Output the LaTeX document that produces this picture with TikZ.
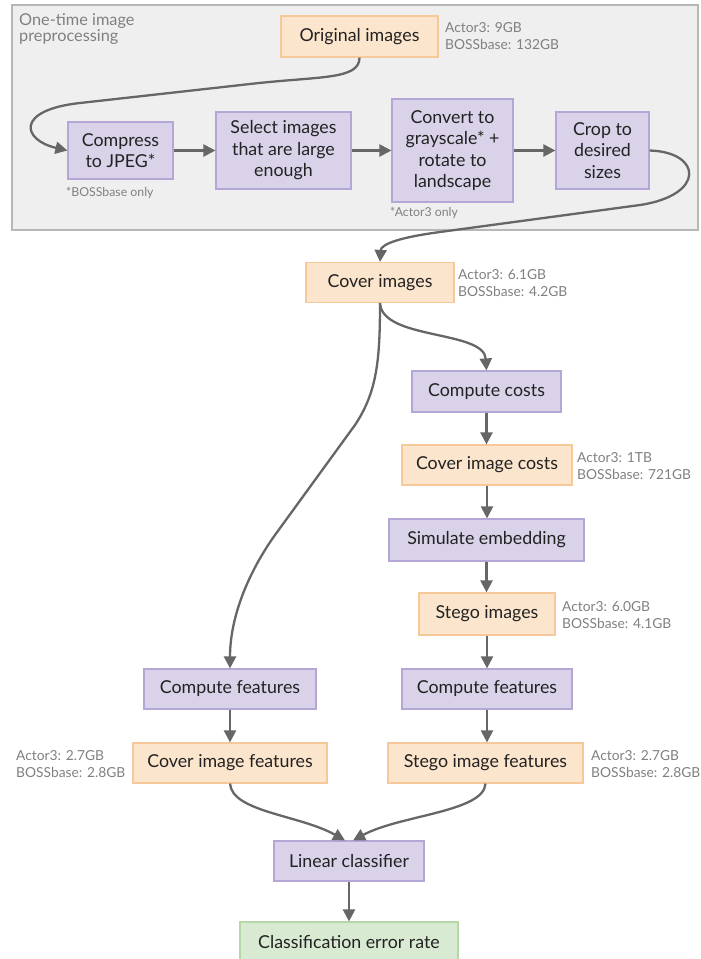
\documentclass[tikz,border=0pt]{standalone}
\usepackage{fontspec}
\setmainfont{Lato}
\usetikzlibrary{arrows.meta}
\definecolor{pfill}{HTML}{D9D2E9}
\definecolor{pdraw}{HTML}{B4A7D6}
\definecolor{ofill}{HTML}{FCE5CD}
\definecolor{odraw}{HTML}{F6C89A}
\definecolor{gfill}{HTML}{D9EAD3}
\definecolor{gdraw}{HTML}{B6D7A8}
\definecolor{bgfill}{HTML}{EFEFEF}
\definecolor{bgdraw}{HTML}{B7B7B7}
\definecolor{arr}{HTML}{666666}
\definecolor{lbl}{HTML}{808080}
\definecolor{txt}{HTML}{222222}
\begin{document}
\begin{tikzpicture}[x=1pt,y=-1pt,
  box/.style={draw, line width=1.2pt, inner sep=0pt, align=center, text=txt,
    font=\fontsize{17.8}{21.5}\selectfont},
  proc/.style={box, fill=pfill, draw=pdraw},
  data/.style={box, fill=ofill, draw=odraw},
  result/.style={box, fill=gfill, draw=gdraw},
  note/.style={text=lbl, font=\fontsize{13.8}{17.5}\selectfont, align=left, inner sep=0pt, anchor=west},
  small/.style={text=lbl, font=\fontsize{12.3}{14}\selectfont, inner sep=0pt, anchor=west},
  conn/.style={draw=arr, line width=2.3pt, -{Triangle[length=12pt,width=12pt]}},
]
\useasboundingbox (0,0) rectangle (701,959);
% background panel
\draw[fill=bgfill, draw=bgdraw, line width=1.2pt] (12,5) rectangle (698,230);
\node[text=lbl, font=\fontsize{16.3}{16.5}\selectfont, align=left, inner sep=0pt, anchor=west] (title) at (19,29) {One-time image\\preprocessing};

% nodes
\node[data, minimum width=157, minimum height=41] (orig) at (359.5,36.5) {Original images};
\node[note] (origl) at (445,36) {Actor3: 9GB\\BOSSbase: 132GB};

\node[proc, minimum width=105, minimum height=57] (compress) at (120.5,150.5) {Compress\\to JPEG*};
\node[proc, minimum width=135, minimum height=77] (select) at (283.5,150.5) {Select images\\that are large\\enough};
\node[proc, minimum width=121, minimum height=103] (convert) at (452.5,150.5) {Convert to\\grayscale* +\\rotate to\\landscape};
\node[proc, minimum width=93, minimum height=77] (crop) at (602.5,150.5) {Crop to\\desired\\sizes};
\node[small] (n1) at (66,193) {*BOSSbase only};
\node[small] (n2) at (390,213) {*Actor3 only};

\node[data, minimum width=148, minimum height=40] (cover) at (380,282.5) {Cover images};
\node[note] (coverl) at (458,283) {Actor3: 6.1GB\\BOSSbase: 4.2GB};

\node[proc, minimum width=149, minimum height=41] (costs) at (486.5,391.5) {Compute costs};
\node[data, minimum width=170, minimum height=40] (coverc) at (487,465) {Cover image costs};
\node[note] (covercl) at (577,466) {Actor3: 1TB\\BOSSbase: 721GB};
\node[proc, minimum width=195, minimum height=42] (sim) at (486.5,540) {Simulate embedding};
\node[data, minimum width=136, minimum height=42] (stego) at (487,614) {Stego images};
\node[note] (stegol) at (562,615) {Actor3: 6.0GB\\BOSSbase: 4.1GB};

\node[proc, minimum width=172, minimum height=40] (cfl) at (230,689) {Compute features};
\node[proc, minimum width=170, minimum height=40] (cfr) at (487,689) {Compute features};
\node[data, minimum width=194, minimum height=40] (cif) at (230,763) {Cover image features};
\node[note] (cifl) at (16,764) {Actor3: 2.7GB\\BOSSbase: 2.8GB};
\node[data, minimum width=195, minimum height=40] (sif) at (485.5,763) {Stego image features};
\node[note] (sifl) at (591,764) {Actor3: 2.7GB\\BOSSbase: 2.8GB};

\node[proc, minimum width=150, minimum height=40] (lin) at (349,861) {Linear classifier};
\node[result, minimum width=218, minimum height=41] (cls) at (349,942.5) {Classification error rate};

% connectors
\draw[conn] (orig.south) .. controls (359.5,80) and (320,76) .. (250,84)
   -- (80,103) .. controls (15,110) and (22,140) .. (compress.west);
\draw[conn] (compress.east) -- (select.west);
\draw[conn] (select.east) -- (convert.west);
\draw[conn] (convert.east) -- (crop.west);
\draw[conn] (crop.east) .. controls (702,152) and (706,195) .. (640,205)
   -- (440,232) .. controls (395,238) and (381,245) .. (cover.north);
\draw[conn] (cover.south) .. controls (382,340) and (484,330) .. (costs.north);
\draw[conn] (cover.south) .. controls (380,360) and (377,392) .. (355,425)
   -- (275,535) .. controls (250,570) and (230,615) .. (cfl.north);
\draw[conn] (costs.south) -- (costs.south |- coverc.north);
\draw[conn] (coverc.south) -- (coverc.south |- sim.north);
\draw[conn] (sim.south) -- (sim.south |- stego.north);
\draw[conn] (stego.south) -- (stego.south |- cfr.north);
\draw[conn] (cfl.south) -- (cfl.south |- cif.north);
\draw[conn] (cfr.south) -- (cfr.south |- sif.north);
\draw[conn] (cif.south) .. controls (232,812) and (300,815) .. ([xshift=-4pt]lin.north);
\draw[conn] (sif.south) .. controls (484,812) and (400,815) .. ([xshift=4pt]lin.north);
\draw[conn] (lin.south) -- (cls.north);
\end{tikzpicture}
\end{document}
